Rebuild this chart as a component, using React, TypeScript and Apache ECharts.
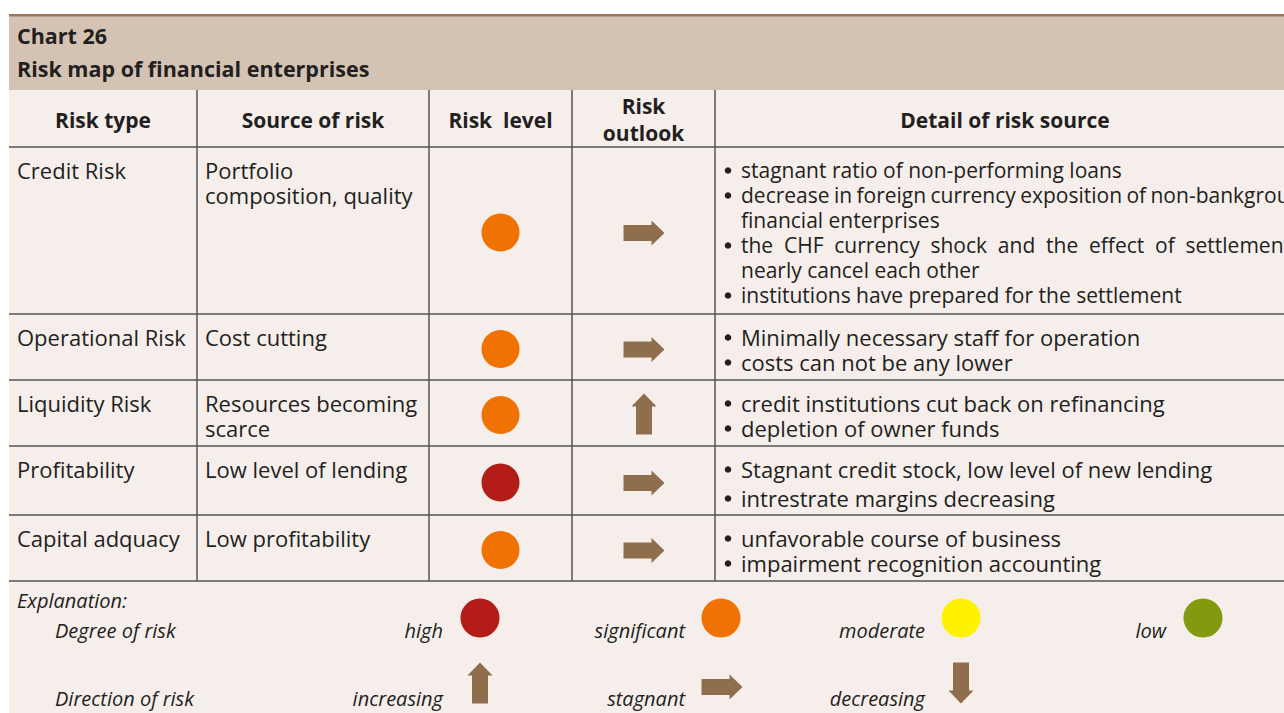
import React, { useEffect, useRef } from "react";
import * as echarts from "echarts";

// ---- data ----
const chartNumber = "Chart 26";
const chartTitle = "Risk map of financial enterprises";
const headers = ["Risk type", "Source of risk", "Risk  level", "Risk\noutlook", "Detail of risk source"];
const riskTypes = ["Credit Risk", "Operational Risk", "Liquidity Risk", "Profitability", "Capital adquacy"];
const riskSources = [
  ["Portfolio", "composition, quality"],
  ["Cost cutting"],
  ["Resources becoming", "scarce"],
  ["Low level of lending"],
  ["Low profitability"],
];
// risk level: high / significant / moderate / low
const riskLevels = ["significant", "significant", "significant", "high", "significant"];
// outlook: increasing / stagnant / decreasing
const riskOutlooks = ["stagnant", "stagnant", "increasing", "stagnant", "stagnant"];
const riskDetails: string[][][] = [
  [
    ["stagnant ratio of non-performing loans"],
    ["decrease in foreign currency exposition of non-bankgroup", "financial enterprises"],
    ["the CHF currency shock and the effect of settlement", "nearly cancel each other"],
    ["institutions have prepared for the settlement"],
  ],
  [["Minimally necessary staff for operation"], ["costs can not be any lower"]],
  [["credit institutions cut back on refinancing"], ["depletion of owner funds"]],
  [["Stagnant credit stock, low level of new lending"], ["intrestrate margins decreasing"]],
  [["unfavorable course of business"], ["impairment recognition accounting"]],
];
const explanationLabel = "Explanation:";
const degreeLabel = "Degree of risk";
const directionLabel = "Direction of risk";
const degreeKeys = ["high", "significant", "moderate", "low"];
const directionKeys = ["increasing", "stagnant", "decreasing"];

// ---- styles ----
const levelColors: Record<string, string> = {
  high: "#b41c18",
  significant: "#ef7203",
  moderate: "#fff200",
  low: "#839a0e",
};
const arrowColor = "#8e6e4c";
const textColor = "#231f20";
const gridColor = "#555555";
const FONT = '"Open Sans", "Noto Sans", sans-serif';

// layout
const colX = [9, 197, 429, 572, 715, 1284];
const headerTop = 90;
const rowLines = [147, 314, 380, 446, 515, 581];
const detailGaps = [25, 25, 25, 29, 25];
const detailSizes = [21, 22, 22, 22, 22];

function measure(text: string, font: string): number {
  const c = document.createElement("canvas");
  const ctx = c.getContext("2d")!;
  ctx.font = font;
  return ctx.measureText(text).width;
}

function arrowPoints(cx: number, cy: number, dir: string): number[][] {
  const L = 20.5, sh = 8, hh = 12.5, hl = 13;
  const base = [
    [-L, -sh], [L - hl, -sh], [L - hl, -hh], [L, 0], [L - hl, hh], [L - hl, sh], [-L, sh],
  ];
  return base.map(([x, y]) => {
    if (dir === "stagnant") return [cx + x, cy + y];
    if (dir === "increasing") return [cx + y, cy - x];
    return [cx + y, cy + x];
  });
}

export default function App() {
  const ref = useRef<HTMLDivElement>(null);
  useEffect(() => {
    if (!ref.current) return;
    const chart = echarts.init(ref.current, undefined, { renderer: "svg" });
    const els: any[] = [];
    const cellFont = `22px ${FONT}`;
    const boldFont = `bold 21px ${FONT}`;
    const italicFont = `italic 20px ${FONT}`;

    // backgrounds
    els.push({ type: "rect", shape: { x: 9, y: headerTop, width: 1284, height: 713 - headerTop }, style: { fill: "#f5eeeb" }, silent: true });
    els.push({ type: "rect", shape: { x: 9, y: 16, width: 1284, height: headerTop - 16 }, style: { fill: "#d4c3b3" }, silent: true });
    els.push({ type: "rect", shape: { x: 9, y: 14, width: 1284, height: 2.5 }, style: { fill: "#9a7a58" }, silent: true });

    // title
    els.push({ type: "text", x: 17, y: 35, style: { text: chartNumber, font: `bold 21.5px ${FONT}`, fill: textColor, verticalAlign: "middle" } });
    els.push({ type: "text", x: 17, y: 68, style: { text: chartTitle, font: `bold 21.5px ${FONT}`, fill: textColor, verticalAlign: "middle" } });

    // grid lines
    for (let i = 1; i < colX.length - 1; i++) {
      els.push({ type: "line", shape: { x1: colX[i], y1: headerTop, x2: colX[i], y2: rowLines[rowLines.length - 1] }, style: { stroke: gridColor, lineWidth: 1.5 } });
    }
    rowLines.forEach((y) => {
      els.push({ type: "line", shape: { x1: 9, y1: y, x2: 1284, y2: y }, style: { stroke: gridColor, lineWidth: 1.5 } });
    });

    // headers
    headers.forEach((h, i) => {
      const cx = (colX[i] + (i === 4 ? 1295 : colX[i + 1])) / 2;
      const lines = h.split("\n");
      const midY = (headerTop + rowLines[0]) / 2 + 1;
      lines.forEach((ln, k) => {
        const y = midY + (k - (lines.length - 1) / 2) * 27;
        els.push({ type: "text", x: cx, y, style: { text: ln, font: boldFont, fill: textColor, align: "center", verticalAlign: "middle" } });
      });
    });

    // rows
    riskTypes.forEach((rt, r) => {
      const top = rowLines[r];
      const bottom = rowLines[r + 1];
      const firstY = top + 22.5;
      els.push({ type: "text", x: 17, y: firstY, style: { text: rt, font: cellFont, fill: textColor, verticalAlign: "middle" } });
      riskSources[r].forEach((s, k) => {
        els.push({ type: "text", x: 205, y: firstY + k * 25, style: { text: s, font: cellFont, fill: textColor, verticalAlign: "middle" } });
      });
      const cy = (top + bottom) / 2 + 2;
      els.push({ type: "circle", shape: { cx: (colX[2] + colX[3]) / 2, cy, r: 19 }, style: { fill: levelColors[riskLevels[r]] } });
      els.push({ type: "polygon", shape: { points: arrowPoints((colX[3] + colX[4]) / 2 + 0.5, riskOutlooks[r] === "stagnant" ? cy + 0.5 : cy - 1, riskOutlooks[r]) }, style: { fill: arrowColor } });
      // details
      const dFont = `${detailSizes[r]}px ${FONT}`;
      let y = firstY;
      const gap = detailGaps[r];
      riskDetails[r].forEach((item) => {
        item.forEach((ln, k) => {
          if (k === 0) {
            els.push({ type: "circle", shape: { cx: 728, cy: y + 1, r: 3.3 }, style: { fill: textColor } });
          }
          const justify = k < item.length - 1;
          if (justify) {
            const words = ln.split(" ");
            const widths = words.map((w) => measure(w, dFont));
            const total = widths.reduce((a, b) => a + b, 0);
            const spaceW = measure(" ", dFont);
            const right = 1291;
            const space = Math.max(spaceW * 0.8, (right - 741 - total) / (words.length - 1));
            let x = 741;
            words.forEach((w, wi) => {
              els.push({ type: "text", x, y, style: { text: w, font: dFont, fill: textColor, verticalAlign: "middle" } });
              x += widths[wi] + space;
            });
          } else {
            els.push({ type: "text", x: 741, y, style: { text: ln, font: dFont, fill: textColor, verticalAlign: "middle" } });
          }
          y += gap;
        });
      });
    });

    // explanation / legend
    els.push({ type: "text", x: 17, y: 600, style: { text: explanationLabel, font: italicFont, fill: textColor, verticalAlign: "middle" } });
    els.push({ type: "text", x: 55, y: 630, style: { text: degreeLabel, font: italicFont, fill: textColor, verticalAlign: "middle" } });
    els.push({ type: "text", x: 55, y: 698, style: { text: directionLabel, font: italicFont, fill: textColor, verticalAlign: "middle" } });
    const legendRight = [443, 685, 925, 1166];
    const markerX = [480, 721, 961, 1203];
    degreeKeys.forEach((k, i) => {
      els.push({ type: "text", x: legendRight[i], y: 630, style: { text: k, font: italicFont, fill: textColor, align: "right", verticalAlign: "middle" } });
      els.push({ type: "circle", shape: { cx: markerX[i], cy: 618, r: 19.5 }, style: { fill: levelColors[k] } });
    });
    directionKeys.forEach((k, i) => {
      els.push({ type: "text", x: legendRight[i], y: 698, style: { text: k, font: italicFont, fill: textColor, align: "right", verticalAlign: "middle" } });
      const cy = k === "stagnant" ? 687 : 683;
      els.push({ type: "polygon", shape: { points: arrowPoints(k === "stagnant" ? 722 : markerX[i], cy, k) }, style: { fill: arrowColor } });
    });

    chart.setOption({ animation: false, graphic: { elements: els } });
    return () => chart.dispose();
  }, []);
  return (
    <div
      ref={ref}
      style={{ position: "fixed", left: 0, top: 0, width: 1284, height: 713, background: "#ffffff" }}
    />
  );
}
